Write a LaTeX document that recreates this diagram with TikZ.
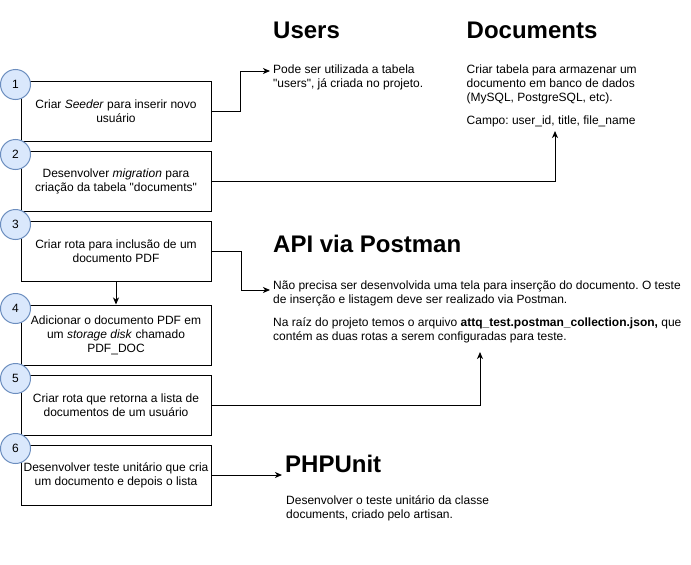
\documentclass[tikz,border=0pt]{standalone}
\usepackage{fontspec}
\setmainfont{Liberation Sans}[Ligatures=TeXOff]
\frenchspacing
\usetikzlibrary{calc}                                %allows coordinate calculations.
\usetikzlibrary{arrows.meta}                         %allows the filled arrow tips.

\definecolor{numfill}{HTML}{DAE8FC}
\definecolor{numline}{HTML}{6C8EBF}

\begin{document}
\begin{tikzpicture}[x=1pt,y=-1pt,
  stepbox/.style={draw, line width=1pt, minimum width=190pt, minimum height=60pt, inner sep=0pt, align=center, font=\fontsize{12}{14}\selectfont},
  stepnum/.style={circle, draw=numline, fill=numfill, line width=1pt, minimum size=30pt, inner sep=0pt, font=\fontsize{12}{14}\selectfont},
  title/.style={anchor=base west, inner sep=0pt, font=\fontsize{24}{28}\selectfont\bfseries},
  note/.style={anchor=north west, inner sep=0pt, align=left, font=\fontsize{12}{14}\selectfont},
  flow/.style={line width=1pt, -{Stealth[length=7pt,width=6pt,inset=2pt]}}]

\useasboundingbox (0,0) rectangle (691,565);

% Define layout parameters
\def\bx{116}        %x of the centre of the step boxes.
\def\tx{273}        %left edge of the notes on the right.
\def\dx{466.5}      %left edge of the Documents note.

% Step boxes, top to bottom.
\node[stepbox] (s1) at (\bx,111) {Criar \textit{Seeder} para inserir novo\\usuário};
\node[stepbox] (s2) at (\bx,181) {Desenvolver \textit{migration} para\\criação da tabela "documents"};
\node[stepbox] (s3) at (\bx,251) {Criar rota para inclusão de um\\documento PDF};
\node[stepbox] (s4) at (\bx,335) {Adicionar o documento PDF em\\um \textit{storage disk} chamado\\PDF\_DOC};
\node[stepbox] (s5) at (\bx,405) {Criar rota que retorna a lista de\\documentos de um usuário};
\node[stepbox] (s6) at (\bx,475) {Desenvolver teste unitário que cria\\um documento e depois o lista};

% Step numbers, sitting on the top left corners.
\node[stepnum] (n1) at ($(s1.north west)+(-5,4)$) {1};
\node[stepnum] (n2) at ($(s2.north west)+(-5,4)$) {2};
\node[stepnum] (n3) at ($(s3.north west)+(-5,4)$) {3};
\node[stepnum] (n4) at ($(s4.north west)+(-5,4)$) {4};
\node[stepnum] (n5) at ($(s5.north west)+(-5,4)$) {5};
\node[stepnum] (n6) at ($(s6.north west)+(-5,4)$) {6};

% Headings and notes.
\node[title] (usersttl) at (\tx,38.5) {Users};
\node[note] (userstxt) at (\tx,63.7) {\strut Pode ser utilizada a tabela\\"users", já criada no projeto.};

\node[title] (docsttl) at (\dx,38.5) {Documents};
\node[note] (docstxt) at (\dx,63.5) {\strut Criar tabela para armazenar um\\documento em banco de dados\\(MySQL, PostgreSQL, etc).\\[8.5pt]Campo: user\_id, title, file\_name};

\node[title] (apittl) at (\tx,252.5) {API via Postman};
\node[note] (apitxt) at (\tx,279.5) {\strut Não precisa ser desenvolvida uma tela para inserção do documento. O teste\\de inserção e listagem deve ser realizado via Postman.\\[9pt]Na raíz do projeto temos o arquivo \textbf{attq\_test.postman\_collection.json,} que\\contém as duas rotas a serem configuradas para teste.};

\node[title] (phpttl) at (285,472.3) {PHPUnit};
\node[note] (phptxt) at (286,494.2) {\strut Desenvolver o teste unitário da classe\\documents, criado pelo artisan.};

% Arrow ends next to the notes.
\coordinate (usersin) at (270,71);
\coordinate (docsin) at (555,131);
\coordinate (apiin) at (270,290);
\coordinate (apiup) at (480,352);
\coordinate (phpin) at (282,475);

% Connectors.
\draw[flow] (s1.east) -- ++(29,0) |- (usersin);
\draw[flow] (s2.east) -| (docsin);
\draw[flow] (s3.east) -- ++(30,0) |- (apiin);
\draw[flow] (s3) -- (s4);
\draw[flow] (s5.east) -| (apiup);
\draw[flow] (s6.east) -- (phpin);

\end{tikzpicture}
\end{document}
